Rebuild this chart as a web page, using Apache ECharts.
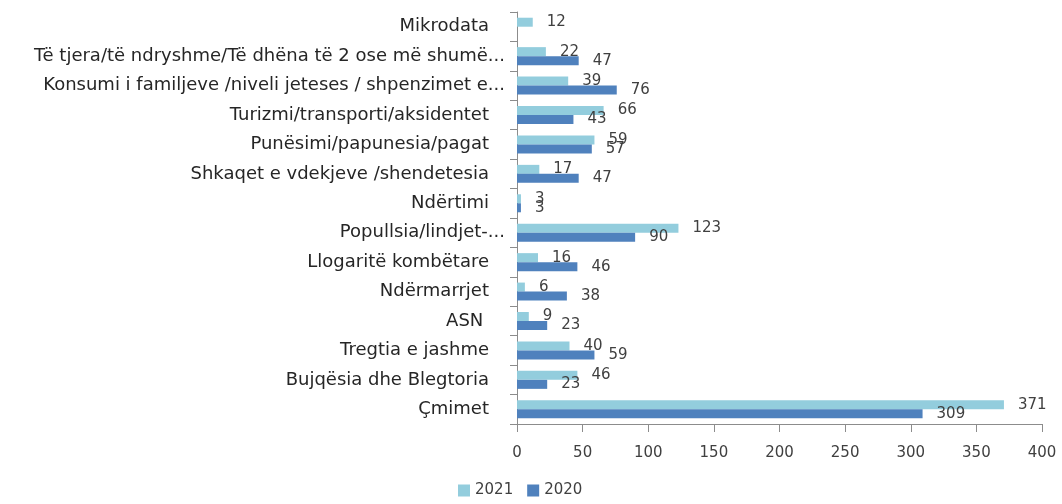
<!DOCTYPE html>
<html>
<head>
<meta charset="utf-8">
<script src="https://cdn.jsdelivr.net/npm/echarts@6/dist/echarts.min.js"></script>
<style>
  html, body { margin: 0; padding: 0; background: #fff; }
  #chart { width: 1062px; height: 504px; }
</style>
</head>
<body>
<div id="chart"></div>
<script>
// kategorite, nga poshte lart
var categories = [
  'Çmimet',
  'Bujqësia dhe Blegtoria',
  'Tregtia e jashme',
  'ASN ',
  'Ndërmarrjet',
  'Llogaritë kombëtare',
  'Popullsia/lindjet-...',
  'Ndërtimi',
  'Shkaqet e vdekjeve /shendetesia',
  'Punësimi/papunesia/pagat',
  'Turizmi/transporti/aksidentet',
  'Konsumi i familjeve /niveli jeteses / shpenzimet e...',
  'Të tjera/të ndryshme/Të dhëna të 2 ose më shumë...',
  'Mikrodata'
];
var data2021 = [371, 46, 40, 9, 6, 16, 123, 3, 17, 59, 66, 39, 22, 12];
var data2020 = [309, 23, 59, 23, 38, 46, 90, 3, 47, 57, 43, 76, 47, null];
var xTicks = { min: 0, max: 400, interval: 50 };

var chartDom = document.getElementById('chart');
var myChart = echarts.init(chartDom);

var FONT = 'DejaVu Sans';

var labelStyle = {
  show: true,
  position: 'right',
  distance: 14,
  color: '#404040',
  fontFamily: FONT,
  fontSize: 15
};

var option = {
  animation: false,
  textStyle: { fontFamily: FONT },
  legend: {
    data: ['2021', '2020'],
    left: 453,
    bottom: 1,
    itemWidth: 12,
    itemHeight: 12,
    itemGap: 14,
    icon: 'rect',
    textStyle: { color: '#404040', fontSize: 15, fontFamily: FONT }
  },
  grid: { left: 517, right: 20, top: 12, bottom: 80, containLabel: false },
  xAxis: {
    type: 'value',
    min: xTicks.min,
    max: xTicks.max,
    interval: xTicks.interval,
    splitLine: { show: false },
    axisLine: { show: true, lineStyle: { color: '#8c8c8c' } },
    axisTick: { show: true, length: 8, lineStyle: { color: '#8c8c8c' } },
    axisLabel: { color: '#404040', fontSize: 15, margin: 22, fontFamily: FONT }
  },
  yAxis: {
    type: 'category',
    data: categories,
    axisLine: { show: true, lineStyle: { color: '#8c8c8c' } },
    axisTick: { show: true, length: 7, lineStyle: { color: '#8c8c8c' } },
    axisLabel: {
      color: '#262626',
      fontSize: 18,
      margin: 12,
      fontFamily: FONT,
      formatter: function (v) {
        // emrat e shkurtuar shkojne me afer boshtit
        if (v.slice(-3) === '...') return '{e|' + v + '}';
        return '{n|' + v + '}';
      },
      rich: {
        e: { fontSize: 18, fontFamily: FONT, color: '#262626' },
        n: { fontSize: 18, fontFamily: FONT, color: '#262626', padding: [0, 16, 0, 0] }
      }
    }
  },
  series: [
    {
      name: '2021',
      type: 'bar',
      data: data2021,
      barWidth: 9,
      barGap: '0%',
      itemStyle: { color: '#93CDDD' },
      label: labelStyle
    },
    {
      name: '2020',
      type: 'bar',
      data: data2020,
      barWidth: 9,
      barGap: '0%',
      itemStyle: { color: '#4F81BD' },
      label: labelStyle
    }
  ]
};
myChart.setOption(option);
</script>
</body>
</html>
